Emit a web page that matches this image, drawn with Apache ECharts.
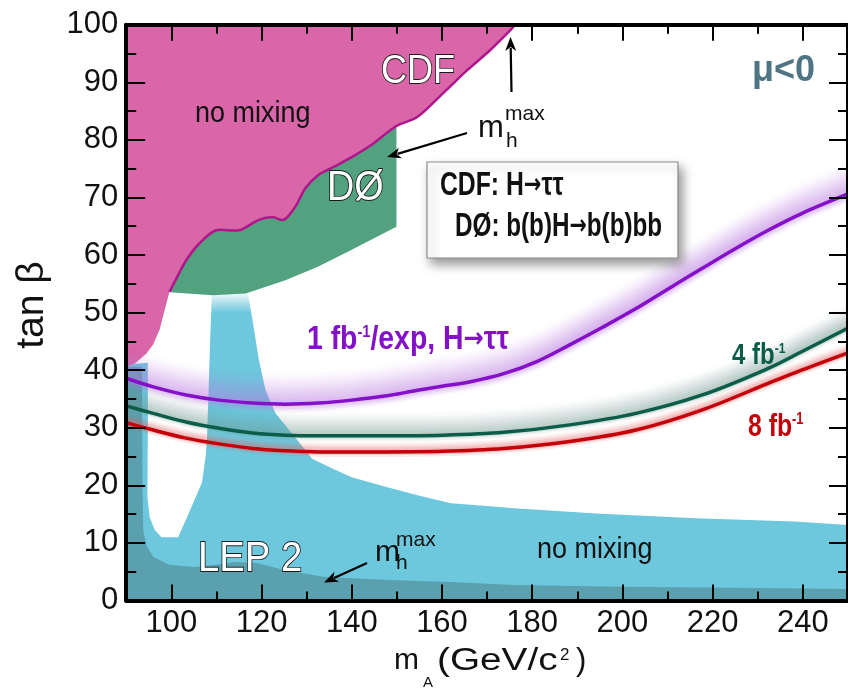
<!DOCTYPE html>
<html><head><meta charset="utf-8">
<script src="https://cdn.jsdelivr.net/npm/echarts@6/dist/echarts.min.js"></script>
<style>html,body{margin:0;padding:0;background:#fff}#c{width:848px;height:692px}</style>
</head><body><div id="c"></div>
<script>
// ---------------- data ----------------
const xMajorTicks = [100,120,140,160,180,200,220,240];
const xMinorTicks = [110,130,150,170,190,210,230,250];
const yMinorTicks = [5,15,25,35,45,55,65,75,85,95];

// CDF/D0 m_h^max exclusion boundary (pink/green edge), low part up to m_A=150
const cdfEdgeLow = [[99.6,53.6],[101.5,56.5],[103.3,59.1],[106.2,62.0],[109.9,64.3],[115.0,64.3],[119.4,66.1],[122.4,66.6],[124.9,66.1],[127.5,68.4],[129.7,71.6],[132.6,73.9],[136,75.3],[140,77.0],[144.3,79.1],[149.9,82.4]];
// continuation up to tan beta = 100
const cdfEdgeHigh = [[149.9,82.4],[154.6,84.0],[160.5,88.3],[165.6,92.1],[170.7,95.6],[175.1,99.0],[176.2,100]];
// lower-left edge of the CDF no-mixing region
const cdfNoMixLowEdge = [[99.6,53.6],[98.9,51.6],[97.4,47.0],[96.0,44.5],[94.5,42.9],[92.0,41.2],[90,40.6]];
// bottom edge of the D0 region
const d0BottomEdge = [[149.9,64.9],[140,60.9],[132.6,58.0],[125.3,55.6],[116.5,53.3],[109.2,53.0],[100.4,53.5]];
// LEP 2 no-mixing exclusion
const lepNoMix = [[90,0],[90,41],[94.8,41.3],[94.8,30],[94.7,18],[95.2,14.5],[96.3,12.3],[97.8,11],[101.5,11],[103.5,14.5],[106.8,20.5],[107.6,25],[107.9,28],[108.2,35],[108.6,45],[109,53.2],[113,53.4],[116.9,53.5],[118,48.7],[119.4,41.8],[120.9,36.5],[123.1,32.5],[128,27.8],[131.2,24.6],[136.3,22.7],[140,21.4],[147.3,19.8],[155,18.2],[162,16.9],[170,16.4],[176,16.0],[194.2,15.1],[216.2,14.3],[238.2,13.7],[250,13.1],[250,0]];
// faded top of the LEP band
const lepBandTop = [[108.9,53.6],[117,53.6],[117.6,50.0],[108.7,50.0]];
// LEP 2 m_h^max exclusion
const lepMhmax = [[90,0],[90,40.6],[93.5,40.6],[93.6,20],[93.8,12],[94.5,9.5],[96,7.6],[99.5,6.2],[105,5.8],[110,6.2],[114,6.7],[119,6.5],[125,5.3],[134,4.1],[147,3.6],[162,3.2],[176,2.7],[200,2.4],[225,2.2],[250,2.0],[250,0]];
// projected sensitivity curves
const curve1fb = [[90,38.6],[96,37.1],[103.3,35.7],[110.6,34.8],[118,34.3],[125.3,34.1],[132.6,34.3],[140,34.8],[147.3,35.5],[154.6,36.5],[160,37.2],[166.3,38.0],[173.7,39.4],[181,41.5],[188.3,44.4],[195.7,47.5],[203,50.7],[210.3,54.2],[217.7,57.7],[225,61.1],[232.3,64.3],[239.7,67.2],[250,70.6]];
const curve4fb = [[90,33.8],[96,32.5],[103.3,31.0],[110.6,29.9],[118,29.1],[125.3,28.7],[132.6,28.6],[140,28.6],[147.3,28.6],[160,28.7],[173.7,29.2],[188.3,30.5],[203,32.5],[217.7,35.7],[232.3,40.3],[239.7,43.2],[250,47.3]];
const curve8fb = [[90,30.9],[96,29.6],[103.3,28.2],[110.6,27.2],[118,26.4],[125.3,26.0],[132.6,25.8],[147.3,25.8],[160,25.9],[173.7,26.4],[188.3,27.6],[203,29.6],[217.7,33.1],[232.3,37.7],[239.7,40.0],[250,43.0]];

// ---------------- chart ----------------
const FF = '"Liberation Sans", Arial, Helvetica, sans-serif';
const chart = echarts.init(document.getElementById('c'), null, {renderer:'canvas'});

const pinkPoly = [[90,100]].concat(cdfEdgeHigh.slice().reverse(), cdfEdgeLow.slice().reverse().slice(1), cdfNoMixLowEdge.slice(1));
const greenPoly = cdfEdgeLow.concat(d0BottomEdge);

function polySeries(pts, fill) {
  return {type:'custom', xAxisIndex:0, yAxisIndex:0, silent:true, z:2, data:[[90,0]],
    renderItem:(p, api) => ({type:'polygon', shape:{points:pts.map(q => api.coord(q))}, style:{fill:fill}})};
}
function polylineSeries(pts, stroke, w) {
  return {type:'custom', xAxisIndex:0, yAxisIndex:0, silent:true, z:3, data:[[90,0]],
    renderItem:(p, api) => ({type:'polyline', shape:{points:pts.map(q => api.coord(q)), smooth:0.3}, style:{stroke:stroke, lineWidth:w, fill:null}})};
}
// soft glow above a curve, made of overlapping shifted strokes (pixel offsets only)
function glowSeries(pts, rgb, n, step, a0, below) {
  return {type:'custom', xAxisIndex:0, yAxisIndex:0, silent:true, z:3, data:[[90,0]],
    renderItem:(p, api) => {
      const P = pts.map(q => api.coord(q));
      const ch = [];
      for (let k = -below; k < n; k++) {
        const f = k < 0 ? (1 + k / (below + 1)) : Math.pow(1 - k / n, 1.4);
        ch.push({type:'polyline', y:-k*step, shape:{points:P, smooth:0.3},
          style:{stroke:'rgba('+rgb+','+(a0*f/3).toFixed(3)+')', lineWidth:step*3, fill:null}});
      }
      return {type:'group', children:ch};
    }};
}
function lineSeries(pts, color) {
  return {type:'line', xAxisIndex:0, yAxisIndex:0, data:pts, smooth:0.35, symbol:'none', silent:true, z:4,
    lineStyle:{color:color, width:3.5}};
}

const tickStyle = {color:'#000', width:2};
function xAx(pos, ticks, len, line, labels) {
  return {type:'value', min:90, max:250, position:pos, z:10,
    axisLine:{show:line, onZero:false, lineStyle:{color:'#000', width:4}},
    axisTick:{show:true, inside:true, length:len, customValues:ticks, lineStyle:tickStyle},
    axisLabel:labels ? {show:true, customValues:xMajorTicks, margin:7, fontSize:31, color:'#111', fontFamily:FF} : {show:false},
    splitLine:{show:false}, minorTick:{show:false}};
}
function yAx(pos, minor, line, labels) {
  const o = {type:'value', min:0, max:100, position:pos, z:10,
    axisLine:{show:line, onZero:false, lineStyle:{color:'#000', width:4}},
    axisTick:{show:true, inside:true, length:minor ? 10 : 19, lineStyle:tickStyle},
    axisLabel:labels ? {show:true, margin:8, fontSize:31, color:'#111', fontFamily:FF} : {show:false},
    splitLine:{show:false}};
  if (minor) o.axisTick.customValues = yMinorTicks; else o.interval = 10;
  return o;
}

function txt(t, x, y, fs, o) {
  o = o || {};
  return {type:'text', x:x, y:y, scaleX:o.sx||1, rotation:o.rot||0, z:100, silent:true,
    style:Object.assign({text:t, fontFamily:FF, fontSize:fs, fontWeight:o.fw||'normal', fill:o.fill||'#111',
      align:o.al||'left', verticalAlign:'middle', textAlign:o.al||'left', textVerticalAlign:'middle'}, o.st||{})};
}
function arrow(x1,y1,x2,y2) {
  const a = Math.atan2(y2-y1, x2-x1), L = 14, W = 5.5;
  const bx = x2 - L*Math.cos(a), by = y2 - L*Math.sin(a);
  return [{type:'line', z:100, silent:true, shape:{x1:x1,y1:y1,x2:bx+3*Math.cos(a),y2:by+3*Math.sin(a)}, style:{stroke:'#000', lineWidth:2.2}},
    {type:'polygon', z:100, silent:true, shape:{points:[[x2,y2],[bx+W*Math.sin(a), by-W*Math.cos(a)],[bx+4*Math.cos(a), by+4*Math.sin(a)],[bx-W*Math.sin(a), by+W*Math.cos(a)]]}, style:{fill:'#000'}}];
}
const outline = {stroke:'#1a1a1a', lineWidth:1.8, shadowColor:'rgba(0,0,0,0.5)', shadowBlur:3, shadowOffsetX:1.5, shadowOffsetY:1.5};
const PUR = '#8410c8', GRN = '#0b5d49', RED = '#c4000a';
function supRich(fs, color) {
  return {a:{fontSize:fs, fontWeight:'bold', fill:color, fontFamily:FF},
          s:{fontSize:Math.round(fs*0.5), fontWeight:'bold', fill:color, fontFamily:FF, verticalAlign:'top'},
          r:{fontSize:Math.round(fs*0.85), fontWeight:'bold', fill:color, fontFamily:'"DejaVu Sans", sans-serif'}};
}

const graphics = [
  txt('no mixing', 195, 114, 29, {sx:0.93}),
  txt('CDF', 381, 72, 41, {sx:0.88, fill:'#fff', st:outline}),
  txt('DØ', 327, 188, 42, {sx:0.9, fill:'#fff', st:outline}),
  txt('m', 478, 128, 31),
  txt('h', 506, 141, 21),
  txt('max', 505, 114, 21),
  {type:'rect', z:99, silent:true, shape:{x:427, y:162, width:251, height:96}, style:{fill:'#fff', stroke:'#8a8a8a', lineWidth:1.2, shadowBlur:10, shadowOffsetX:4, shadowOffsetY:6, shadowColor:'rgba(0,0,0,0.4)'}},
  txt('{a|CDF: H}{r|→}{a|ττ}', 440, 186, 0, {sx:0.75, st:{rich:supRich(33,'#111')}}),
  txt('{a|DØ: b(b)H}{r|→}{a|b(b)bb}', 455, 227, 0, {sx:0.735, st:{rich:supRich(33,'#111')}}),
  txt('μ<0', 752, 71, 36, {fw:'bold', fill:'#4f7585', st:{shadowColor:'rgba(0,0,0,0.35)', shadowBlur:6, shadowOffsetX:2, shadowOffsetY:3}}),
  txt('{a|1 fb}{s|-1}{a|/exp, H}{r|→}{a|ττ}', 307, 340, 0, {sx:0.86, st:{rich:supRich(33, PUR)}}),
  txt('{a|4 fb}{s|-1}', 732, 356, 0, {sx:0.8, st:{rich:supRich(30, GRN)}}),
  txt('{a|8 fb}{s|-1}', 748, 427, 0, {sx:0.8, st:{rich:supRich(31, RED)}}),
  txt('LEP 2', 198, 559, 43, {sx:0.89, fill:'#fff', st:outline}),
  txt('m', 375, 553, 30),
  txt('h', 396, 563, 21),
  txt('max', 396, 540, 21),
  txt('no mixing', 537, 550, 29, {sx:0.93}),
  txt('tan β', 32, 305, 39, {rot:Math.PI/2, al:'center'}),
  txt('m', 394, 661, 30),
  txt('A', 423, 683, 15),
  txt('(GeV/c', 437, 661, 31, {sx:1.25}),
  txt('2', 560, 655, 17),
  txt(')', 576, 661, 31)
].concat(arrow(467,133,387,157), arrow(511.5,92,510.5,37), arrow(367,563,324,582.5));

chart.setOption({
  backgroundColor:'#fff',
  animation:false,
  grid:{left:126.2, top:24.7, width:727.5, height:575.8, containLabel:false},
  xAxis:[xAx('bottom', xMajorTicks, 16, true, true), xAx('bottom', xMinorTicks, 9, false, false),
         xAx('top', xMajorTicks, 16, true, false), xAx('top', xMinorTicks, 9, false, false)],
  yAxis:[yAx('left', false, true, true), yAx('left', true, false, false),
         yAx('right', false, true, false), yAx('right', true, false, false)],
  series:[
    polySeries(lepNoMix, '#6ec8dd'),
    polySeries(lepMhmax, '#5aa0af'),
    polySeries(lepBandTop, new echarts.graphic.LinearGradient(0,0,0,1,[{offset:0,color:'rgba(255,255,255,0.95)'},{offset:1,color:'rgba(255,255,255,0)'}])),
    polySeries(pinkPoly, '#d966a8'),
    polySeries(greenPoly, '#52a27f'),
    polylineSeries(cdfEdgeLow.concat(cdfEdgeHigh.slice(1)), '#b0168c', 2.5),
    glowSeries(curve1fb, '185,120,225', 16, 2, 0.7, 3),
    glowSeries(curve4fb, '110,150,140', 12, 2, 0.65, 1),
    glowSeries(curve8fb, '225,100,100', 5, 2, 0.8, 1),
    lineSeries(curve1fb, PUR),
    lineSeries(curve4fb, GRN),
    lineSeries(curve8fb, RED)
  ],
  graphic:{elements:graphics}
});
</script></body></html>
